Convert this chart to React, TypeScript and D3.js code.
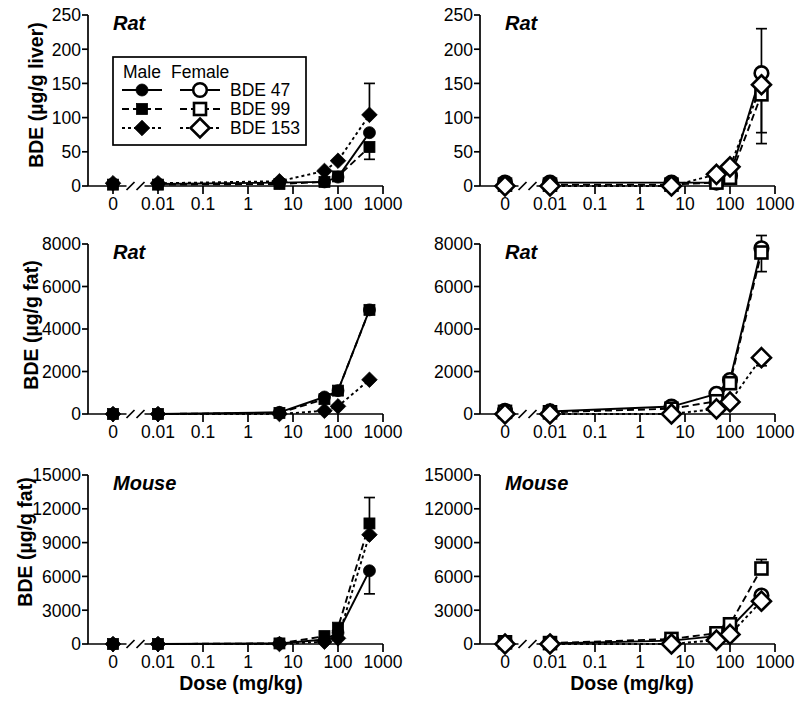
import React from "react";
import * as d3 from "d3";

// ---------- DATA ----------
const doses = [0, 0.01, 5, 50, 100, 500];
const xTickValues = [0.001, 0.01, 0.1, 1, 10, 100, 1000];
const xTickLabels = ["0", "0.01", "0.1", "1", "10", "100", "1000"];
const seriesNames = ["BDE 47", "BDE 99", "BDE 153"];

// Rat liver (µg/g liver)
const ratLiverMale47 = [3, 3, 5, 6, 13, 78];
const ratLiverMale99 = [2, 2, 3, 6, 14, 57];
const ratLiverMale153 = [4, 4, 7, 22, 37, 104];
const ratLiverFemale47 = [5, 5, 5, 5, 15, 165];
const ratLiverFemale99 = [2, 2, 2, 5, 12, 134];
const ratLiverFemale153 = [0, 0, 0, 17, 28, 148];

// Rat fat (µg/g fat)
const ratFatMale47 = [0, 0, 80, 800, 1100, 4900];
const ratFatMale99 = [0, 0, 50, 700, 1100, 4900];
const ratFatMale153 = [0, 0, 0, 150, 360, 1610];
const ratFatFemale47 = [150, 120, 350, 950, 1600, 7800];
const ratFatFemale99 = [100, 80, 250, 600, 1450, 7600];
const ratFatFemale153 = [0, 0, 0, 240, 570, 2650];

// Mouse fat (µg/g fat)
const mouseFatMale47 = [0, 0, 50, 400, 1000, 6500];
const mouseFatMale99 = [0, 0, 50, 700, 1450, 10700];
const mouseFatMale153 = [0, 0, 0, 200, 500, 9700];
const mouseFatFemale47 = [100, 50, 300, 700, 1400, 4300];
const mouseFatFemale99 = [150, 80, 450, 950, 1750, 6700];
const mouseFatFemale153 = [0, 0, 0, 350, 850, 3800];

// Error bars: [series index, dose, bar end value]
const ratLiverMaleErr = [[2, 500, 150], [1, 500, 39]];
const ratLiverFemaleErr = [[0, 500, 230], [2, 500, 78], [1, 500, 62]];
const ratFatMaleErr: number[][] = [];
const ratFatFemaleErr = [[0, 500, 8400], [1, 500, 6700], [2, 500, 2270]];
const mouseFatMaleErr = [[1, 500, 13000], [0, 500, 4450]];
const mouseFatFemaleErr = [[1, 500, 7500]];

const ratLiverTicks = [0, 50, 100, 150, 200, 250];
const ratFatTicks = [0, 2000, 4000, 6000, 8000];
const mouseFatTicks = [0, 3000, 6000, 9000, 12000, 15000];

// ---------- LAYOUT ----------
const FONT = "'Liberation Sans', Arial, Helvetica, sans-serif";
const dashes = [null, "7,4", "3,3"];
const shapes = ["circle", "square", "diamond"];

type Panel = {
  x0: number; yTop: number; yBot: number; ticks: number[]; title: string;
  ylabel?: string; ylabelX?: number; ylabelY?: number; female: boolean; series: number[][];
  err: number[][]; legend?: boolean;
};

const panels: Panel[] = [
  { x0: 88, yTop: 15, yBot: 186, ticks: ratLiverTicks, title: "Rat", ylabel: "BDE (µg/g liver)", ylabelX: 43, ylabelY: 95, female: false, series: [ratLiverMale47, ratLiverMale99, ratLiverMale153], err: ratLiverMaleErr, legend: true },
  { x0: 480, yTop: 15, yBot: 186, ticks: ratLiverTicks, title: "Rat", female: true, series: [ratLiverFemale47, ratLiverFemale99, ratLiverFemale153], err: ratLiverFemaleErr },
  { x0: 88, yTop: 244, yBot: 414, ticks: ratFatTicks, title: "Rat", ylabel: "BDE (µg/g fat)", ylabelX: 38, ylabelY: 325, female: false, series: [ratFatMale47, ratFatMale99, ratFatMale153], err: ratFatMaleErr },
  { x0: 480, yTop: 244, yBot: 414, ticks: ratFatTicks, title: "Rat", female: true, series: [ratFatFemale47, ratFatFemale99, ratFatFemale153], err: ratFatFemaleErr },
  { x0: 88, yTop: 475, yBot: 644, ticks: mouseFatTicks, title: "Mouse", ylabel: "BDE (µg/g fat)", ylabelX: 32, ylabelY: 542, female: false, series: [mouseFatMale47, mouseFatMale99, mouseFatMale153], err: mouseFatMaleErr },
  { x0: 480, yTop: 475, yBot: 644, ticks: mouseFatTicks, title: "Mouse", female: true, series: [mouseFatFemale47, mouseFatFemale99, mouseFatFemale153], err: mouseFatFemaleErr },
];

function Marker({ shape, filled, x, y }: { shape: string; filled: boolean; x: number; y: number }) {
  const fill = filled ? "#000" : "#fff";
  const sw = filled ? 0.8 : 2.6;
  if (shape === "circle") {
    const r = filled ? 6 : 6.8;
    return <circle cx={x} cy={y} r={r} fill={fill} stroke="#000" strokeWidth={sw} />;
  }
  if (shape === "square") {
    const s = filled ? 11 : 12;
    return <rect x={x - s / 2} y={y - s / 2} width={s} height={s} fill={fill} stroke="#000" strokeWidth={sw} />;
  }
  const h = filled ? 7.8 : 9.5;
  return <path d={`M${x},${y - h}L${x + h},${y}L${x},${y + h}L${x - h},${y}Z`} fill={fill} stroke="#000" strokeWidth={sw} />;
}

function PanelView({ p }: { p: Panel }) {
  const zeroX = p.x0 + 25;
  const x = d3.scaleLog().domain([0.001, 1000]).range([zeroX, zeroX + 270]);
  const xd = (d: number) => (d === 0 ? x(0.001) : x(d));
  const yMax = p.ticks[p.ticks.length - 1];
  const y = d3.scaleLinear().domain([0, yMax]).range([p.yBot, p.yTop]);
  const line = d3.line<number>().x((_, i) => xd(doses[i + 1])).y((v) => y(v));
  const breakX = (x(0.001) + x(0.01)) / 2;
  const axisY = p.yBot;
  return (
    <g>
      {/* y axis */}
      <line x1={p.x0} x2={p.x0} y1={p.yTop} y2={axisY} stroke="#000" strokeWidth={1.7} />
      {p.ticks.map((t) => (
        <g key={t}>
          <line x1={p.x0 - 6} x2={p.x0} y1={y(t)} y2={y(t)} stroke="#000" strokeWidth={1.7} />
          <text x={p.x0 - 7} y={y(t)} dy="0.36em" textAnchor="end" fontSize={17.5} fontFamily={FONT}>{t}</text>
        </g>
      ))}
      {/* x axis with break */}
      <line x1={p.x0} x2={breakX - 9} y1={axisY} y2={axisY} stroke="#000" strokeWidth={1.7} />
      <line x1={breakX + 9} x2={x(1000)} y1={axisY} y2={axisY} stroke="#000" strokeWidth={1.7} />
      <line x1={breakX - 9} x2={breakX - 1} y1={axisY + 4} y2={axisY - 4} stroke="#000" strokeWidth={1.7} />
      <line x1={breakX + 1} x2={breakX + 9} y1={axisY + 4} y2={axisY - 4} stroke="#000" strokeWidth={1.7} />
      {xTickValues.map((t, i) => (
        <g key={t}>
          <line x1={x(t)} x2={x(t)} y1={axisY} y2={axisY + 8} stroke="#000" strokeWidth={1.7} />
          <text x={x(t)} y={axisY + 24} textAnchor="middle" fontSize={17.5} fontFamily={FONT}>{xTickLabels[i]}</text>
        </g>
      ))}
      {/* title */}
      <text x={zeroX} y={p.yTop + 15} fontSize={20} fontWeight="bold" fontStyle="italic" fontFamily={FONT}>{p.title}</text>
      {p.ylabel && (
        <text transform={`translate(${p.ylabelX},${p.ylabelY}) rotate(-90)`} textAnchor="middle" fontSize={19.5} fontWeight="bold" fontFamily={FONT}>{p.ylabel}</text>
      )}
      {/* lines */}
      {p.series.map((s, si) => (
        <path key={si} d={line(s.slice(1)) || ""} fill="none" stroke="#000" strokeWidth={1.9} strokeDasharray={dashes[si] || undefined} />
      ))}
      {/* error bars */}
      {p.err.map(([si, dose, end], k) => {
        const idx = doses.indexOf(dose);
        const cx = xd(dose);
        return (
          <g key={k}>
            <line x1={cx} x2={cx} y1={y(p.series[si][idx])} y2={y(end)} stroke="#000" strokeWidth={1.7} />
            <line x1={cx - 5.5} x2={cx + 5.5} y1={y(end)} y2={y(end)} stroke="#000" strokeWidth={1.7} />
          </g>
        );
      })}
      {/* markers */}
      {p.series.map((s, si) =>
        s.map((v, i) => <Marker key={`${si}-${i}`} shape={shapes[si]} filled={!p.female} x={xd(doses[i])} y={y(v)} />)
      )}
      {p.legend && (
        <g>
          <rect x={113} y={57} width={193} height={88} fill="#fff" stroke="#000" strokeWidth={1.7} />
          <text x={123} y={78} fontSize={17.5} fontFamily={FONT}>Male</text>
          <text x={171} y={78} fontSize={17.5} fontFamily={FONT}>Female</text>
          {seriesNames.map((n, si) => {
            const ly = 90 + si * 19;
            return (
              <g key={n}>
                <line x1={122} x2={162} y1={ly} y2={ly} stroke="#000" strokeWidth={1.9} strokeDasharray={dashes[si] || undefined} />
                <Marker shape={shapes[si]} filled={true} x={142} y={ly} />
                <line x1={180} x2={220} y1={ly} y2={ly} stroke="#000" strokeWidth={1.9} strokeDasharray={dashes[si] || undefined} />
                <Marker shape={shapes[si]} filled={false} x={200} y={ly} />
                <text x={230} y={ly} dy="0.36em" fontSize={17.5} fontFamily={FONT}>{n}</text>
              </g>
            );
          })}
        </g>
      )}
    </g>
  );
}

export default function App() {
  return (
    <svg width={800} height={705} style={{ position: "absolute", left: 0, top: 0, background: "#fff" }}>
      <rect width={800} height={705} fill="#fff" />
      {panels.map((p, i) => <PanelView key={i} p={p} />)}
      <text x={241} y={690} textAnchor="middle" fontSize={19.5} fontWeight="bold" fontFamily={FONT}>Dose (mg/kg)</text>
      <text x={632} y={690} textAnchor="middle" fontSize={19.5} fontWeight="bold" fontFamily={FONT}>Dose (mg/kg)</text>
    </svg>
  );
}
